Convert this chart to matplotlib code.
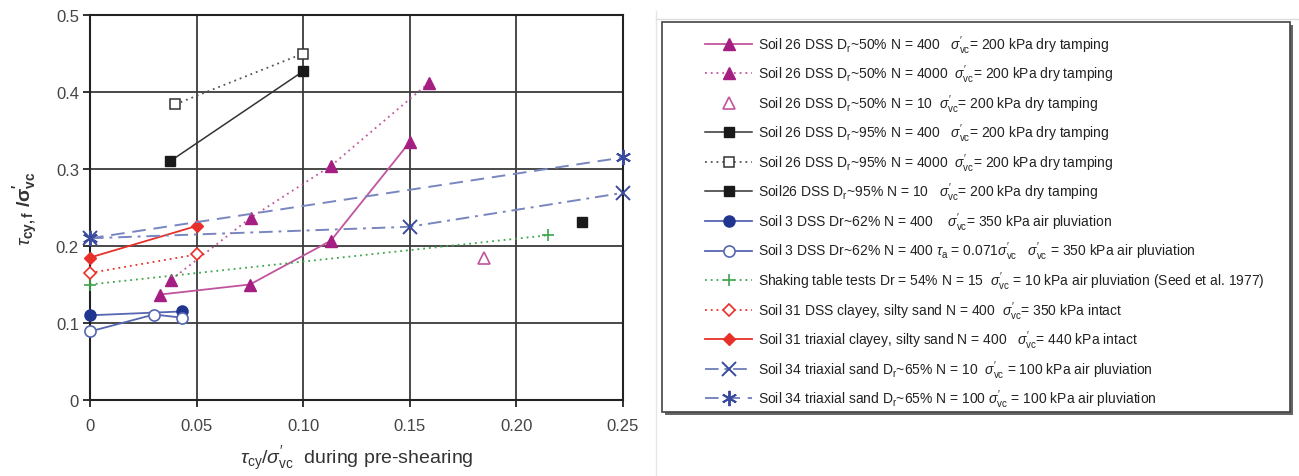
import matplotlib
matplotlib.use("Agg")
import matplotlib.pyplot as plt
from matplotlib.patches import Rectangle
from matplotlib.lines import Line2D

plt.rcParams['font.family'] = ['Liberation Sans', 'DejaVu Sans']
plt.rcParams['mathtext.fontset'] = 'custom'
plt.rcParams['mathtext.rm'] = 'Liberation Sans'
plt.rcParams['mathtext.it'] = 'Liberation Sans:italic'
plt.rcParams['mathtext.bf'] = 'Liberation Sans:bold'

# ---- data ----
s26_50_400_x = [0.033, 0.075, 0.113, 0.150]
s26_50_400_y = [0.137, 0.150, 0.207, 0.335]
s26_50_4000_x = [0.038, 0.0755, 0.113, 0.159]
s26_50_4000_y = [0.156, 0.237, 0.304, 0.412]
s26_50_10_x = [0.185]
s26_50_10_y = [0.184]
s26_95_400_x = [0.0375, 0.100]
s26_95_400_y = [0.310, 0.427]
s26_95_4000_x = [0.040, 0.100]
s26_95_4000_y = [0.384, 0.450]
s26_95_10_x = [0.231]
s26_95_10_y = [0.231]
s3_400_x = [0.0, 0.043]
s3_400_y = [0.110, 0.115]
s3_400ta_x = [0.0, 0.030, 0.043]
s3_400ta_y = [0.089, 0.111, 0.107]
shake_x = [0.0, 0.215]
shake_y = [0.150, 0.214]
s31_dss_x = [0.0, 0.050]
s31_dss_y = [0.165, 0.189]
s31_tx_x = [0.0, 0.050]
s31_tx_y = [0.185, 0.226]
s34_10_x = [0.0, 0.150, 0.250]
s34_10_y = [0.210, 0.225, 0.269]
s34_100_x = [0.0, 0.250]
s34_100_y = [0.210, 0.315]

x_ticks = [0, 0.05, 0.10, 0.15, 0.20, 0.25]
x_tick_labels = ["0", "0.05", "0.10", "0.15", "0.20", "0.25"]
y_ticks = [0, 0.1, 0.2, 0.3, 0.4, 0.5]
y_tick_labels = ["0", "0.1", "0.2", "0.3", "0.4", "0.5"]

SIG = r"$\it{\sigma}_\mathrm{vc}^{\prime}$"
labels = [
    r"Soil 26 DSS D$_\mathrm{r}$~50% N = 400   " + SIG + "= 200 kPa dry tamping",
    r"Soil 26 DSS D$_\mathrm{r}$~50% N = 4000  " + SIG + "= 200 kPa dry tamping",
    r"Soil 26 DSS D$_\mathrm{r}$~50% N = 10  " + SIG + "= 200 kPa dry tamping",
    r"Soil 26 DSS D$_\mathrm{r}$~95% N = 400   " + SIG + "= 200 kPa dry tamping",
    r"Soil 26 DSS D$_\mathrm{r}$~95% N = 4000  " + SIG + "= 200 kPa dry tamping",
    r"Soil26 DSS D$_\mathrm{r}$~95% N = 10   " + SIG + "= 200 kPa dry tamping",
    r"Soil 3 DSS Dr~62% N = 400    " + SIG + "= 350 kPa air pluviation",
    r"Soil 3 DSS Dr~62% N = 400 $\tau_\mathrm{a}$ = 0.071" + SIG + "   " + SIG + " = 350 kPa air pluviation",
    r"Shaking table tests Dr = 54% N = 15  " + SIG + " = 10 kPa air pluviation (Seed et al. 1977)",
    r"Soil 31 DSS clayey, silty sand N = 400  " + SIG + "= 350 kPa intact",
    r"Soil 31 triaxial clayey, silty sand N = 400   " + SIG + "= 440 kPa intact",
    r"Soil 34 triaxial sand D$_\mathrm{r}$~65% N = 10  " + SIG + " = 100 kPa air pluviation",
    r"Soil 34 triaxial sand D$_\mathrm{r}$~65% N = 100 " + SIG + " = 100 kPa air pluviation",
]

W, H = 1299, 477
fig = plt.figure(figsize=(W / 100, H / 100), dpi=100)
ax = fig.add_axes([90 / W, 1 - 401 / H, (623 - 90) / W, (401 - 16) / H])

MAG = '#A51E82'
MAGL = '#C0559E'
BLK = '#1a1a1a'
NAVY = '#1F3590'
NAVYL = '#5567B0'
GRN = '#3DA54A'
RED = '#E8302A'
BLU = '#3A4A9E'
BLUL = '#7886C0'
dot = (0, (1, 2.2))

h = []
h.append(ax.plot(s26_50_400_x, s26_50_400_y, '-', color=MAGL, lw=1.3, marker='^', ms=8, mfc=MAG, mec=MAG)[0])
h.append(ax.plot(s26_50_4000_x, s26_50_4000_y, linestyle=dot, color=MAGL, lw=1.3, marker='^', ms=8, mfc=MAG, mec=MAG)[0])
h.append(ax.plot(s26_50_10_x, s26_50_10_y, linestyle='none', marker='^', ms=8, mfc='white', mec=MAGL, mew=1.2)[0])
h.append(ax.plot(s26_95_400_x, s26_95_400_y, '-', color='#333333', lw=1.1, marker='s', ms=7.5, mfc=BLK, mec=BLK)[0])
h.append(ax.plot(s26_95_4000_x, s26_95_4000_y, linestyle=dot, color='#555555', lw=1.3, marker='s', ms=7.5, mfc='white', mec='#333333', mew=1.1)[0])
h.append(ax.plot(s26_95_10_x, s26_95_10_y, '-', color='#333333', lw=1.1, marker='s', ms=7.5, mfc=BLK, mec=BLK)[0])
h.append(ax.plot(s3_400_x, s3_400_y, '-', color=NAVYL, lw=1.3, marker='o', ms=8, mfc=NAVY, mec=NAVY)[0])
h.append(ax.plot(s3_400ta_x, s3_400ta_y, '-', color=NAVYL, lw=1.3, marker='o', ms=8, mfc='white', mec=NAVYL, mew=1.2)[0])
h.append(ax.plot(shake_x, shake_y, linestyle=dot, color=GRN, lw=1.3, marker='+', ms=9, mec=GRN, mew=1.2)[0])
h.append(ax.plot(s31_dss_x, s31_dss_y, linestyle=dot, color=RED, lw=1.3, marker='D', ms=6.5, mfc='white', mec=RED, mew=1.2)[0])
h.append(ax.plot(s31_tx_x, s31_tx_y, '-', color=RED, lw=1.3, marker='D', ms=6.5, mfc=RED, mec=RED)[0])
h.append(ax.plot(s34_10_x, s34_10_y, linestyle=(0, (7, 3, 1.5, 3)), color=BLUL, lw=1.4, marker='x', ms=10, mec=BLU, mew=1.4)[0])
h.append(ax.plot(s34_100_x, s34_100_y, linestyle=(0, (7, 4)), color=BLUL, lw=1.4, marker=(6, 2, 0), ms=11, mec=BLU, mew=1.4)[0])
for ln in h:
    ln.set_clip_on(False)
    ln.set_zorder(3)

ax.set_xlim(0, 0.25)
ax.set_ylim(0, 0.5)
ax.set_xticks(x_ticks)
ax.set_xticklabels(x_tick_labels)
ax.set_yticks(y_ticks)
ax.set_yticklabels(y_tick_labels)
ax.grid(True, color='#3a3a3a', lw=1.3)
ax.set_axisbelow(True)
for s in ax.spines.values():
    s.set_color('#222222')
    s.set_linewidth(1.5)
ax.tick_params(axis='both', direction='out', length=5, width=1.3, color='#222222',
               labelsize=12, labelcolor='#444444')
ax.tick_params(axis='x', pad=8)
ax.tick_params(axis='y', pad=3)
ax.set_xlabel(r"$\tau_\mathrm{cy}$/$\sigma_\mathrm{vc}^{\prime}$  during pre-shearing", fontsize=14,
              color='#333333', labelpad=8)
ax.set_ylabel(r"$\tau_\mathbf{cy,f}$ $\mathbf{/\sigma}_\mathbf{vc}^{\mathbf{\prime}}$", fontsize=14,
              color='#333333', labelpad=11)

# faint scan-edge lines
fig.add_artist(Line2D([656 / W, 656 / W], [0, 1 - 12 / H], color='#e6e6e6', lw=1, transform=fig.transFigure))
fig.add_artist(Line2D([656 / W, 1], [1 - 20 / H, 1 - 20 / H], color='#dddddd', lw=1, transform=fig.transFigure))

# legend frame with shadow
L, R, T, B = 662, 1290, 23, 413
fig.add_artist(Rectangle(((L + 3) / W, 1 - (B + 3) / H), (R - L) / W, (B - T) / H,
                         transform=fig.transFigure, facecolor='#666666', edgecolor='none'))
fig.add_artist(Rectangle((L / W, 1 - B / H), (R - L) / W, (B - T) / H,
                         transform=fig.transFigure, facecolor='white', edgecolor='#444444', lw=1.2))

leg = fig.legend(h, labels, loc='upper left', bbox_to_anchor=(705 / W, 1 - 34 / H),
                 frameon=False, borderpad=0, handlelength=3.4, handletextpad=0.4,
                 labelspacing=0.50, fontsize=10, numpoints=1, borderaxespad=0)
for t in leg.get_texts():
    t.set_color('#222222')

fig.savefig('out.png', dpi=100)
